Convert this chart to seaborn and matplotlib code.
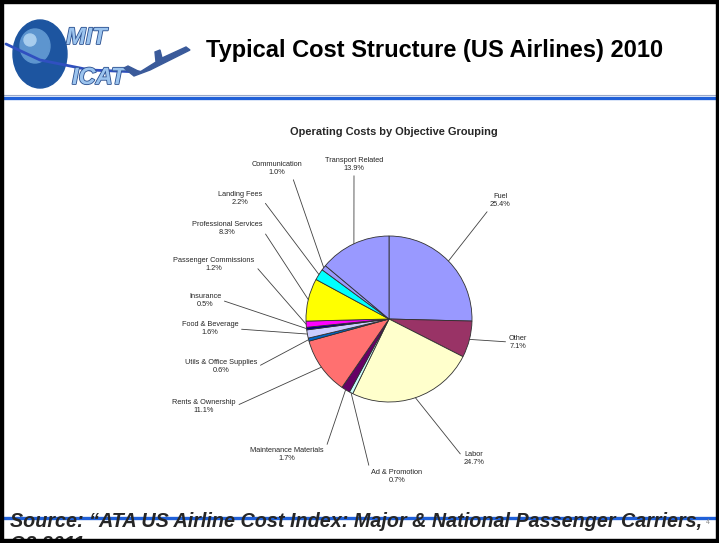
import matplotlib
matplotlib.use("Agg")
import matplotlib.pyplot as plt
import matplotlib.patheffects as pe
import seaborn as sns
import numpy as np
from matplotlib.patches import Rectangle, Ellipse, Polygon

# data
categories = ["Fuel", "Other", "Labor", "Ad & Promotion", "Maintenance Materials",
              "Rents & Ownership", "Utils & Office Supplies", "Food & Beverage",
              "Insurance", "Passenger Commissions", "Professional Services",
              "Landing Fees", "Communication", "Transport Related"]
shares = [25.4, 7.1, 24.7, 0.7, 1.7, 11.1, 0.6, 1.6, 0.5, 1.2, 8.3, 2.2, 1.0, 13.9]

slice_colors = ["#9999FF", "#993366", "#FFFFCC", "#CCFFFF", "#660066", "#FF7070",
                "#0066CC", "#CCCCFF", "#000080", "#FF00FF", "#FFFF00", "#00FFFF",
                "#9999FF", "#9999FF"]

# label placement (pixels) and where the leader leaves the text box
label_pos = [(500, 201), (518, 342), (474, 458), (397, 476), (287, 454), (204, 406),
             (221, 367), (210, 329), (205, 300), (214, 265), (227, 229), (240, 199),
             (277, 169), (354, 165)]
label_rel = [(0, 0), (0, 0.5), (0, 0.5), (0, 0.5), (1, 0.5), (1, 0.5), (1, 0.5),
             (1, 0.5), (1, 0.5), (1, 0.5), (1, 0.5), (1, 0.5), (0.8, 0), (0.5, 0)]

W, H = 719, 543
sns.set_theme(style="white")
plt.rcParams["font.family"] = ["Liberation Sans", "DejaVu Sans"]

fig = plt.figure(figsize=(W / 100, H / 100), dpi=100)
bg = fig.add_axes([0, 0, 1, 1])
bg.set_xlim(0, W)
bg.set_ylim(H, 0)
bg.axis("off")

# logo (rough sketch of the MIT ICAT mark)
bg.add_patch(Ellipse((40, 54), 54, 68, color="#1d55a0", zorder=2))
bg.add_patch(Ellipse((35, 46), 30, 34, color="#5d95cf", zorder=3))
bg.add_patch(Ellipse((30, 40), 12, 12, color="#a8cdee", zorder=3))
bg.plot([6, 40, 90, 140], [44, 60, 70, 72], color="#3050c0", lw=2, zorder=4)
outline = [pe.withStroke(linewidth=1.2, foreground="#2a4f8f")]
bg.text(66, 44, "MIT", fontsize=17, fontweight="bold", style="italic",
        color="#9cc4ee", zorder=5, path_effects=outline)
bg.text(72, 84, "ICAT", fontsize=17, fontweight="bold", style="italic",
        color="#9cc4ee", zorder=5, path_effects=outline)
bg.add_patch(Polygon([(150, 70), (190, 50), (186, 47), (162, 58), (160, 50), (155, 52),
                      (156, 62), (140, 72), (128, 66), (124, 68), (134, 76)],
                     color="#3a5a9a", zorder=5))

bg.text(435, 51, "Typical Cost Structure (US Airlines) 2010", fontsize=17,
        fontweight="bold", ha="center", va="center", color="black")

bg.plot([3, 716], [94.5, 94.5], color="#9aa8c8", lw=0.8)
bg.plot([3, 716], [97.5, 97.5], color="#2060d8", lw=2.4)

# footer
bg.plot([3, 716], [517.5, 517.5], color="#2060d8", lw=2.4, zorder=1)
bg.text(10, 527, "Source: \u201cATA US Airline Cost Index: Major & National Passenger Carriers,",
        fontsize=14.2, fontweight="bold", style="italic", va="baseline", zorder=2)
bg.text(10, 550, "Q3 2011", fontsize=14.2, fontweight="bold", style="italic",
        va="baseline", zorder=2)
bg.text(708, 522, "4", fontsize=5, color="#888888", ha="center", va="center")

# slide frame
for x, y, w, h in [(0, 0, W, 3), (0, 0, 2.5, H), (716, 0, 3, H), (0, 538.5, W, 5)]:
    bg.add_patch(Rectangle((x, y), w, h, color="black", zorder=10))

bg.text(394, 132, "Operating Costs by Objective Grouping", fontsize=7.9,
        fontweight="bold", ha="center", va="center")

# pie
cx, cy, r = 389, 319, 83
ax = fig.add_axes([(cx - r) / W, (H - cy - r) / H, 2 * r / W, 2 * r / H])
wedges, _ = ax.pie(shares, colors=slice_colors, startangle=90, counterclock=False,
                   wedgeprops=dict(edgecolor="#303030", linewidth=0.6))
ax.set_xlim(-1, 1)
ax.set_ylim(-1, 1)

for wdg, name, val, pos, rel in zip(wedges, categories, shares, label_pos, label_rel):
    ang = np.deg2rad((wdg.theta1 + wdg.theta2) / 2)
    ax.annotate(f"{name}\n{val:.1f}%", xy=(np.cos(ang), np.sin(ang)),
                xytext=pos, textcoords=bg.transData, fontsize=5.3,
                ha="center", va="center", multialignment="center",
                annotation_clip=False,
                arrowprops=dict(arrowstyle="-", color="#404040", lw=0.6,
                                shrinkA=0, shrinkB=0, relpos=rel))

fig.savefig("out.png", dpi=100)
